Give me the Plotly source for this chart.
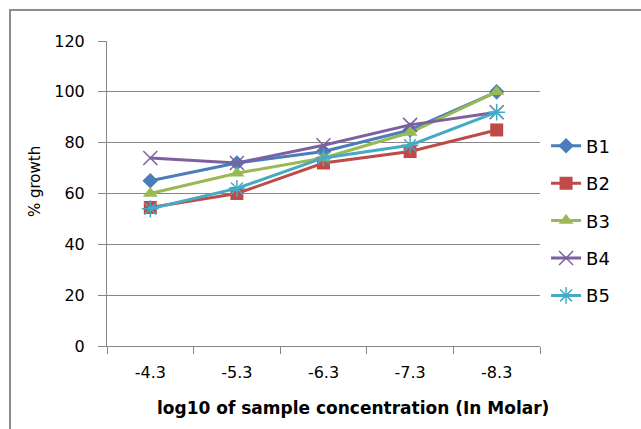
import plotly.graph_objects as go

categories = ["-4.3", "-5.3", "-6.3", "-7.3", "-8.3"]
B1 = [65, 72, 76.5, 85, 100]
B2 = [54.5, 60, 72, 76.5, 85]
B3 = [60, 68, 74, 84, 100]
B4 = [74, 72, 79, 87, 92]
B5 = [54, 62, 74, 79, 92]
y_ticks = [0, 20, 40, 60, 80, 100, 120]

series = [
    ("B1", B1, "#4A7EBB", "diamond", 12, 0),
    ("B2", B2, "#BE4B48", "square", 13, 0),
    ("B3", B3, "#98B954", "triangle-up", 13, 0),
    ("B4", B4, "#7D60A0", "x-thin-open", 14, 1.5),
    ("B5", B5, "#46AAC5", "asterisk-open", 14, 1.5),
]

fig = go.Figure()
for name, vals, col, sym, sz, lw in series:
    fig.add_trace(go.Scatter(
        x=categories, y=vals, name=name, mode="lines+markers",
        legendgroup=name,
        line=dict(color=col, width=3),
        marker=dict(symbol=sym, size=sz, color=col, line=dict(color=col, width=lw)),
    ))

font_family = "DejaVu Sans"
fig.update_layout(
    width=641, height=429,
    margin=dict(l=107, r=101, t=41, b=83),
    paper_bgcolor="white", plot_bgcolor="white",
    font=dict(family=font_family, size=16, color="#000000"),
    showlegend=True,
    legend=dict(x=1.014, y=0.716, xanchor="left", yanchor="top",
                font=dict(size=18), tracegroupgap=11, traceorder="grouped",
                bgcolor="rgba(0,0,0,0)"),
    xaxis=dict(type="category", range=[-0.5, 4.5], showgrid=False,
               ticks="outside", tickson="boundaries", ticklen=7, tickcolor="#868686",
               showline=True, linecolor="#868686", linewidth=1, zeroline=False,
               tickfont=dict(size=16), ticklabelstandoff=12),
    yaxis=dict(range=[0, 120], tickvals=y_ticks, showgrid=True, gridcolor="#868686",
               gridwidth=1, ticks="outside", ticklen=8, tickcolor="#868686",
               showline=True, linecolor="#868686", linewidth=1, zeroline=False,
               tickfont=dict(size=16), ticklabelstandoff=10),
    shapes=[dict(type="rect", xref="paper", yref="paper",
                 x0=-0.224, x1=1.25, y0=-0.29, y1=1.1016,
                 line=dict(color="#8C8C8C", width=2), layer="below")],
    annotations=[
        dict(text="% growth", xref="paper", yref="paper", x=-0.166, y=0.538,
             xanchor="center", yanchor="middle",
             showarrow=False, textangle=-90, font=dict(size=15)),
        dict(text="<b>log10 of sample concentration (In Molar)</b>", xref="paper", yref="paper",
             x=0.568, y=-0.203, xanchor="center", yanchor="middle",
             showarrow=False, font=dict(size=17)),
    ],
)
fig.write_html("out.html")
